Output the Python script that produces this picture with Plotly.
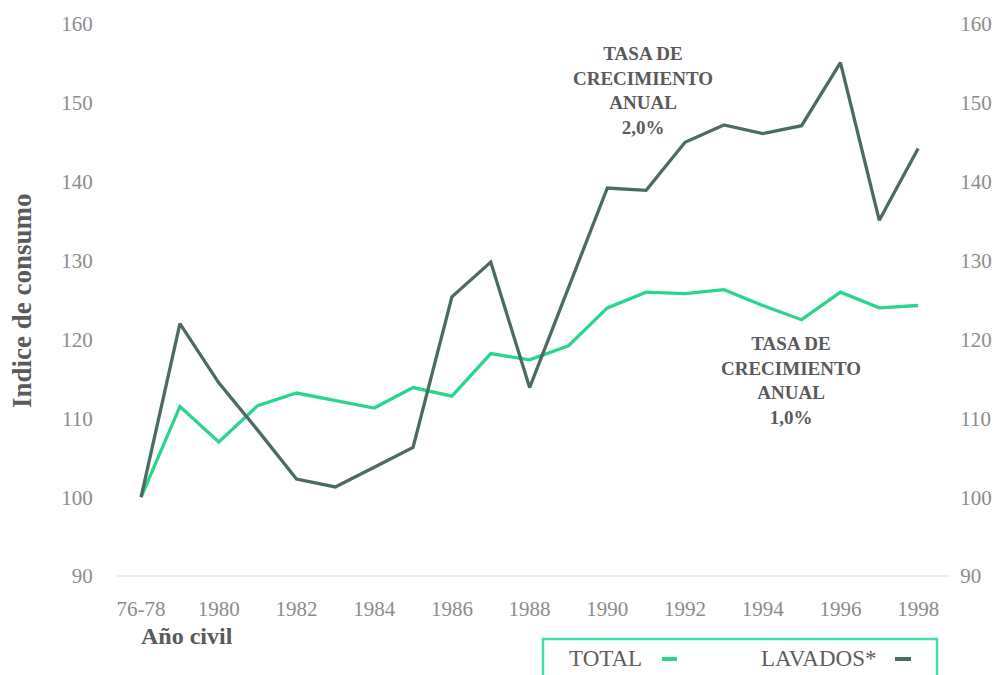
import plotly.graph_objects as go

years = list(range(1978, 1999))
tick_vals = [1978, 1980, 1982, 1984, 1986, 1988, 1990, 1992, 1994, 1996, 1998]
tick_text = ["76-78", "1980", "1982", "1984", "1986", "1988", "1990", "1992", "1994", "1996", "1998"]

total = [100, 111.5, 107.0, 111.6, 113.2, 112.3, 111.3, 113.9, 112.8, 118.2, 117.4,
         119.2, 124.0, 126.0, 125.8, 126.3, 124.3, 122.5, 126.0, 124.0, 124.3]
lavados = [100, 122.0, 114.5, 108.5, 102.3, 101.3, 103.8, 106.3, 125.4, 129.8, 113.9,
           126.5, 139.2, 138.9, 145.0, 147.2, 146.1, 147.1, 155.1, 135.1, 144.2]

y_ticks = [90, 100, 110, 120, 130, 140, 150, 160]

GREEN = "#2bd58c"
DARK = "#4d6c60"
TEXT = "#5a5a5a"
TICK = "#8c8c8c"
FONT = "Liberation Serif"

# page-pixel layout of the plot area (browser body adds an 8px offset)
OFF = 8
PL, PR, PT, PB = 117, 950, 10, 588
W, H = 1000 - OFF, 675 - OFF


def px(xp):
    return (xp - PL) / float(PR - PL)


def py(yp):
    return (PB - yp) / float(PB - PT)


fig = go.Figure()
fig.add_trace(go.Scatter(x=years, y=total, mode="lines", name="TOTAL",
                         line=dict(color=GREEN, width=3.3)))
fig.add_trace(go.Scatter(x=years, y=lavados, mode="lines", name="LAVADOS*",
                         line=dict(color=DARK, width=3.3)))
fig.add_trace(go.Scatter(x=[years[0]], y=[total[0]], yaxis="y2", mode="lines",
                         line=dict(color="rgba(0,0,0,0)"), showlegend=False,
                         hoverinfo="skip"))

yrange = [88.48, 161.77]
fig.update_layout(
    width=W, height=H,
    margin=dict(l=PL - OFF, r=W - (PR - OFF), t=PT - OFF, b=H - (PB - OFF)),
    paper_bgcolor="white", plot_bgcolor="white",
    showlegend=False,
    font=dict(family=FONT, color=TICK),
    xaxis=dict(range=[1977.38, 1998.82], tickvals=tick_vals, ticktext=tick_text,
               showgrid=False, zeroline=False, showline=False, automargin=False,
               ticks="outside", ticklen=2, tickcolor="rgba(0,0,0,0)",
               tickfont=dict(size=21, color=TICK, family=FONT)),
    yaxis=dict(range=yrange, tickvals=y_ticks, showgrid=False, zeroline=False,
               showline=False, ticks="outside", ticklen=19, automargin=False,
               tickcolor="rgba(0,0,0,0)",
               tickfont=dict(size=21, color=TICK, family=FONT)),
    yaxis2=dict(range=yrange, tickvals=y_ticks, overlaying="y", side="right",
                showgrid=False, zeroline=False, showline=False, automargin=False,
                ticks="outside", ticklen=5, tickcolor="rgba(0,0,0,0)",
                tickfont=dict(size=21, color=TICK, family=FONT)),
)

# baseline at 90
fig.add_shape(type="line", xref="paper", yref="y", x0=0, x1=1.0, y0=90, y1=90,
              line=dict(color="#e6e6e6", width=1.5))

ann_font = dict(size=19, color=TEXT, family=FONT)
fig.add_annotation(x=1990.92, y=151.5, xref="x", yref="y",
                   text="<b>TASA DE<br>CRECIMIENTO<br>ANUAL<br>2,0%</b>",
                   showarrow=False, font=ann_font, align="center")
fig.add_annotation(x=1994.73, y=114.8, xref="x", yref="y",
                   text="<b>TASA DE<br>CRECIMIENTO<br>ANUAL<br>1,0%</b>",
                   showarrow=False, font=ann_font, align="center")

# axis titles
fig.add_annotation(x=px(22), y=py(301), xref="paper", yref="paper",
                   text="<b>Indice de consumo</b>", textangle=-90, showarrow=False,
                   xanchor="center", yanchor="middle",
                   font=dict(size=27, color=TEXT, family=FONT))
fig.add_annotation(x=px(139), y=py(636), xref="paper", yref="paper",
                   text="<b>Año civil</b>", showarrow=False, xanchor="left",
                   yanchor="middle", font=dict(size=24, color=TEXT, family=FONT))

# legend box
fig.add_shape(type="rect", xref="paper", yref="paper",
              x0=px(543), x1=px(937), y0=py(690), y1=py(639),
              line=dict(color="#40dcab", width=2.5), fillcolor="rgba(0,0,0,0)")
fig.add_annotation(x=px(567), y=py(658), xref="paper", yref="paper",
                   text="TOTAL", showarrow=False, xanchor="left",
                   yanchor="middle", font=dict(size=23, color="#5e5e5e", family=FONT))
fig.add_annotation(x=px(759), y=py(658), xref="paper", yref="paper",
                   text="LAVADOS*", showarrow=False, xanchor="left",
                   yanchor="middle", font=dict(size=23, color="#5e5e5e", family=FONT))
fig.add_shape(type="line", xref="paper", yref="paper",
              x0=px(662), x1=px(677), y0=py(659), y1=py(659),
              line=dict(color=GREEN, width=4))
fig.add_shape(type="line", xref="paper", yref="paper",
              x0=px(895), x1=px(911), y0=py(659), y1=py(659),
              line=dict(color=DARK, width=4))

fig.write_html("out.html")
